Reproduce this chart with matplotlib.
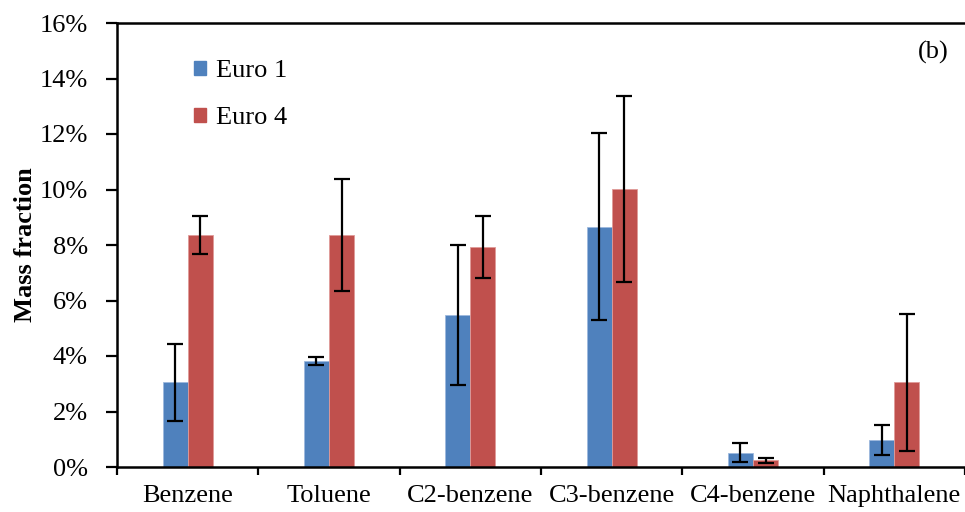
import matplotlib
matplotlib.use("Agg")
import matplotlib.pyplot as plt
import numpy as np
from matplotlib.ticker import FuncFormatter
from matplotlib.patches import Patch

categories = ["Benzene", "Toluene", "C2-benzene", "C3-benzene", "C4-benzene", "Naphthalene"]
euro1 = [3.05, 3.83, 5.48, 8.65, 0.52, 0.96]
euro1_err = [1.40, 0.15, 2.52, 3.37, 0.33, 0.54]
euro4 = [8.36, 8.36, 7.93, 10.02, 0.24, 3.05]
euro4_err = [0.69, 2.03, 1.12, 3.35, 0.09, 2.48]
yticks = [0, 2, 4, 6, 8, 10, 12, 14, 16]

plt.rcParams['font.family'] = ['Liberation Serif', 'DejaVu Serif']
FS = 19

fig = plt.figure(figsize=(9.65, 5.12), dpi=100)
ax = fig.add_axes([117/965, 1 - 467/512, 1 - 117/965, 444/512])

x = np.arange(len(categories))
w = 0.177
blue = "#4F81BD"
red = "#C0504D"
ek = dict(ecolor="black", elinewidth=1.6, capsize=6, capthick=1.6)
ax.bar(x - w/2, euro1, w, color=blue, edgecolor="#9DB9DE", linewidth=0.6,
       yerr=euro1_err, error_kw=ek, label="Euro 1")
ax.bar(x + w/2, euro4, w, color=red, edgecolor="#E09A98", linewidth=0.6,
       yerr=euro4_err, error_kw=ek, label="Euro 4")

ax.set_ylim(0, 16)
ax.set_xlim(-0.5, 5.485)
ax.set_yticks(yticks)
ax.yaxis.set_major_formatter(FuncFormatter(lambda v, p: f"{v:.0f}%"))
ax.set_xticks(x)
ax.set_xticklabels(categories)
ax.set_xticks(np.arange(-0.5, 5.6, 1.0), minor=True)
ax.tick_params(axis='x', which='major', length=0, pad=13, labelsize=FS)
ax.tick_params(axis='x', which='minor', length=6, width=1.6, direction='out')
ax.tick_params(axis='y', length=8, width=1.6, direction='out', labelsize=FS, pad=13)

for s in ['left', 'bottom', 'top']:
    ax.spines[s].set_linewidth(1.8)
ax.spines['right'].set_visible(False)

ax.set_ylabel("Mass fraction", fontsize=FS, fontweight='bold', labelpad=2)

handles = [Patch(color=blue), Patch(color=red)]
leg = ax.legend(handles, ["Euro 1", "Euro 4"], loc='upper left',
                bbox_to_anchor=((194-117)/848, 1 - (60-23)/444), frameon=False,
                fontsize=FS, handlelength=0.45, handleheight=0.45, handletextpad=0.4,
                labelspacing=0.95, borderaxespad=0, borderpad=0)

fig.text(933/965, 1 - 52/512, "(b)", fontsize=FS, ha='center', va='center')

fig.savefig("out.png", dpi=100)
